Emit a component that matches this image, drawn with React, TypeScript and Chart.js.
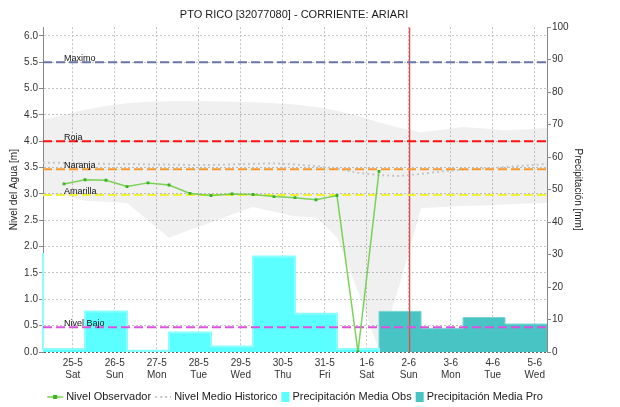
import React, { useEffect, useRef } from "react";
import { Chart, registerables } from "chart.js";

Chart.register(...registerables);

const FONT = "'Liberation Sans', Arial, Helvetica, sans-serif";

// ---------- texts ----------
const chartTitle = "PTO RICO [32077080] - CORRIENTE: ARIARI";
const leftAxisTitle = "Nivel del Agua [m]";
const rightAxisTitle = "Precipitación [mm]";

// ---------- time axis (days since 25-5 00:00) ----------
const dateLabels = ["25-5", "26-5", "27-5", "28-5", "29-5", "30-5", "31-5", "1-6", "2-6", "3-6", "4-6", "5-6"];
const dayLabels = ["Sat", "Sun", "Mon", "Tue", "Wed", "Thu", "Fri", "Sat", "Sun", "Mon", "Tue", "Wed"];
const dayStart = 7 / 24; // hydrological day starts 07:00
const xMin = -1 + dayStart;
const xMax = 11 + dayStart;
const levelMax = 6.165;
const precipMax = 100;

// ---------- observed level [m], every 12 h from 24-5 19:00 ----------
const obsFirstTime = -0.5 + dayStart;
const obsStepDays = 0.5;
const nivelObservador = [3.19, 3.27, 3.26, 3.14, 3.21, 3.17, 3.01, 2.97, 3.0, 2.99, 2.95, 2.93, 2.89, 2.97, 0.0, 3.43];

// ---------- historic level [m], every 12 h from 24-5 07:00 ----------
const histFirstTime = xMin;
const histStepDays = 0.5;
const nivelMedioHistorico = [3.59, 3.59, 3.58, 3.57, 3.57, 3.56, 3.56, 3.55, 3.55, 3.56, 3.57, 3.58, 3.56, 3.53, 3.48, 3.4, 3.36, 3.34, 3.38, 3.43, 3.46, 3.48, 3.51, 3.54, 3.57];
const historicoMax = [4.41, 4.5, 4.6, 4.67, 4.72, 4.75, 4.76, 4.76, 4.76, 4.75, 4.74, 4.72, 4.7, 4.65, 4.58, 4.48, 4.36, 4.25, 4.17, 4.22, 4.27, 4.24, 4.21, 4.23, 4.25];
const historicoMin = [2.98, 2.98, 2.87, 2.85, 2.83, 2.5, 2.17, 2.32, 2.46, 2.61, 2.75, 2.66, 2.57, 2.56, 2.18, 1.15, 0.04, 1.3, 2.73, 2.75, 2.77, 2.78, 2.8, 2.82, 2.83];

// ---------- daily precipitation [mm] (07:00 to 07:00) ----------
const precipObsFirstDay = -2 + dayStart; // 23-5 07:00
const precipMediaObs = [30.2, 0.9, 12.5, 0.4, 6.0, 1.7, 29.4, 11.8, 0.9];
const precipProFirstDay = 7 + dayStart; // 1-6 07:00
const precipMediaPro = [12.5, 7.2, 10.6, 8.6];

// ---------- thresholds [m] ----------
const umbralNombres = ["Maximo", "Roja", "Naranja", "Amarilla", "Nivel Bajo"];
const umbralValores = [5.5, 4.0, 3.47, 2.98, 0.47];
const umbralColores = ["#6a74a6", "#ff1010", "#f59a30", "#f2f230", "#e050e0"];

// current time marker (days)
const ahora = 8.02;

// ---------- colours ----------
const obsColor = "#5cffff";
const obsEdge = "#8affff";
const proColor = "#48c4c4";
const proEdge = "#78d6d6";
const greenLine = "rgba(110,205,70,0.9)";
const greenDot = "#37b41c";
const histColor = "#c6c6c6";

const series = (first: number, step: number, values: number[]) =>
  values.map((y, i) => ({ x: first + i * step, y }));

// step outline of daily totals: each value spans [start + i, start + i + 1]
const steps = (first: number, values: number[]) => [
  { x: first, y: 0 },
  ...values.map((y, i) => ({ x: first + i, y })),
  { x: first + values.length, y: values[values.length - 1] },
  { x: first + values.length, y: 0 },
];

const legendItems = [
  { text: "Nivel Observador", kind: "lineDot" },
  { text: "Nivel Medio Historico", kind: "dotted" },
  { text: "Precipitación Media Obs", kind: "box", color: obsColor },
  { text: "Precipitación Media Pro", kind: "box", color: proColor },
];

const overlayPlugin = {
  id: "overlay",
  afterDatasetsDraw(chart: any) {
    const { ctx, chartArea } = chart;
    const y = chart.scales.y;
    ctx.save();
    ctx.font = `9px ${FONT}`;
    ctx.fillStyle = "#111";
    ctx.textAlign = "left";
    ctx.textBaseline = "alphabetic";
    umbralNombres.forEach((name, i) => {
      const py = y.getPixelForValue(umbralValores[i]);
      ctx.fillText(name, chartArea.left + 21, py - 1);
    });
    ctx.restore();
  },
  afterDraw(chart: any) {
    const { ctx, chartArea } = chart;
    ctx.save();
    ctx.font = `11px ${FONT}`;
    ctx.textBaseline = "middle";
    ctx.textAlign = "left";
    const gapIcon = 3;
    const gapItem = 4;
    const widths = legendItems.map((it) => {
      const iconW = it.kind === "box" ? 8 : 16;
      return { iconW, textW: ctx.measureText(it.text).width };
    });
    const total = widths.reduce((s, w) => s + w.iconW + gapIcon + w.textW, 0) + gapItem * (legendItems.length - 1);
    let x = (chartArea.left + chartArea.right) / 2 - total / 2;
    const cy = chart.height - 10;
    legendItems.forEach((it, i) => {
      const { iconW, textW } = widths[i];
      if (it.kind === "lineDot") {
        ctx.strokeStyle = greenLine;
        ctx.lineWidth = 1.5;
        ctx.beginPath();
        ctx.moveTo(x, cy);
        ctx.lineTo(x + iconW, cy);
        ctx.stroke();
        ctx.fillStyle = greenDot;
        ctx.fillRect(x + iconW / 2 - 2, cy - 2, 4, 4);
      } else if (it.kind === "dotted") {
        ctx.strokeStyle = histColor;
        ctx.lineWidth = 2;
        ctx.setLineDash([2, 3]);
        ctx.beginPath();
        ctx.moveTo(x, cy);
        ctx.lineTo(x + iconW, cy);
        ctx.stroke();
        ctx.setLineDash([]);
      } else {
        ctx.fillStyle = it.color as string;
        ctx.fillRect(x, cy - 5, iconW, 10);
      }
      x += iconW + gapIcon;
      ctx.fillStyle = "#1a1a1a";
      ctx.fillText(it.text, x, cy);
      x += textW + gapItem;
    });
    ctx.restore();
  },
};

export default function App() {
  const canvasRef = useRef<HTMLCanvasElement | null>(null);

  useEffect(() => {
    document.body.style.margin = "0";
    const canvas = canvasRef.current;
    if (!canvas) return;
    Chart.defaults.font.family = FONT;

    const lineBase = { pointRadius: 0, tension: 0, yAxisID: "y" };

    const thresholdSets = umbralValores.map((v, i) => ({
      ...lineBase,
      label: umbralNombres[i],
      data: [
        { x: xMin, y: v },
        { x: xMax, y: v },
      ],
      borderColor: umbralColores[i],
      borderWidth: 2,
      borderDash: [9, 4],
      fill: false,
      order: 6,
    }));

    const chart = new Chart(canvas, {
      type: "line",
      data: {
        datasets: [
          {
            ...lineBase,
            label: "hist max",
            data: series(histFirstTime, histStepDays, historicoMax),
            borderColor: "rgba(0,0,0,0)",
            backgroundColor: "rgba(120,120,120,0.11)",
            fill: "+1",
            order: 10,
          },
          {
            ...lineBase,
            label: "hist min",
            data: series(histFirstTime, histStepDays, historicoMin),
            borderColor: "rgba(0,0,0,0)",
            fill: false,
            order: 10,
          },
          {
            ...lineBase,
            label: "Precipitación Media Obs",
            data: steps(precipObsFirstDay, precipMediaObs),
            yAxisID: "yP",
            stepped: "before",
            fill: "origin",
            backgroundColor: obsColor,
            borderColor: obsEdge,
            borderWidth: 2,
            clip: { left: 1, top: 0, right: 0, bottom: 0 },
            order: 9,
          },
          {
            ...lineBase,
            label: "Precipitación Media Pro",
            data: steps(precipProFirstDay, precipMediaPro),
            yAxisID: "yP",
            stepped: "before",
            fill: "origin",
            backgroundColor: proColor,
            borderColor: proEdge,
            borderWidth: 1,
            order: 9,
          },
          {
            ...lineBase,
            label: "Nivel Medio Historico",
            data: series(histFirstTime, histStepDays, nivelMedioHistorico),
            borderColor: histColor,
            borderWidth: 2,
            borderDash: [2, 3],
            fill: false,
            order: 8,
          },
          {
            ...lineBase,
            label: "ahora",
            data: [
              { x: ahora, y: 0 },
              { x: ahora, y: levelMax },
            ],
            borderColor: "rgb(240,70,70)",
            borderWidth: 1.3,
            fill: false,
            order: 7,
          },
          ...thresholdSets,
          {
            ...lineBase,
            label: "Nivel Observador",
            data: series(obsFirstTime, obsStepDays, nivelObservador),
            borderColor: greenLine,
            borderWidth: 1.5,
            pointStyle: "rect",
            pointRadius: 2,
            pointBorderWidth: 0,
            pointBackgroundColor: greenDot,
            fill: false,
            order: 5,
          },
        ] as any,
      },
      options: {
        responsive: false,
        animation: false,
        events: [],
        layout: { padding: { left: 0, right: 32, top: 0, bottom: 25 } },
        plugins: {
          legend: { display: false },
          tooltip: { enabled: false },
          title: {
            display: true,
            text: chartTitle,
            color: "#1a1a1a",
            font: { size: 11, weight: "normal", family: FONT },
            padding: { top: 8, bottom: 6 },
          },
        },
        scales: {
          x: {
            type: "linear",
            min: xMin,
            max: xMax,
            afterBuildTicks: (scale: any) => {
              scale.ticks = dateLabels.map((_, i) => ({ value: i }));
            },
            afterFit: (scale: any) => {
              scale.height = 30;
            },
            ticks: {
              autoSkip: false,
              maxRotation: 0,
              padding: 5,
              color: "#333",
              font: { size: 10, family: FONT },
              callback: (v: any) => [dateLabels[v], dayLabels[v]],
            },
            grid: { color: "#c4c4c4", drawTicks: false, lineWidth: 1 },
            border: { display: false, dash: [2, 2] },
          },
          y: {
            position: "left",
            min: 0,
            max: levelMax,
            afterFit: (scale: any) => {
              scale.width = 43;
            },
            ticks: {
              stepSize: 0.5,
              includeBounds: false,
              padding: 1,
              color: "#333",
              font: { size: 10, family: FONT },
              callback: (v: any) => Number(v).toFixed(1),
            },
            grid: {
              color: (c: any) => (c.tick && c.tick.value === 0 ? "#666" : "#c4c4c4"),
              tickColor: "#888",
              tickLength: 4,
              tickBorderDash: [],
            },
            border: { display: true, color: "#888", dash: [2, 2] },
            title: {
              display: true,
              text: leftAxisTitle,
              color: "#222",
              font: { size: 10, family: FONT },
              padding: { top: 8, bottom: 4 },
            },
          },
          yP: {
            position: "right",
            min: 0,
            max: precipMax,
            afterFit: (scale: any) => {
              scale.width = 41;
            },
            ticks: {
              stepSize: 10,
              padding: 1,
              color: "#333",
              font: { size: 10, family: FONT },
            },
            grid: { drawOnChartArea: false, tickColor: "#888", tickLength: 4 },
            border: { display: true, color: "#888" },
            title: {
              display: true,
              text: rightAxisTitle,
              color: "#222",
              font: { size: 10, family: FONT },
              padding: { top: 4, bottom: 4 },
            },
          },
        },
      } as any,
      plugins: [overlayPlugin],
    });

    return () => chart.destroy();
  }, []);

  return (
    <div style={{ width: 620, height: 407, background: "#fff" }}>
      <canvas ref={canvasRef} width={620} height={407} style={{ display: "block" }} />
    </div>
  );
}
